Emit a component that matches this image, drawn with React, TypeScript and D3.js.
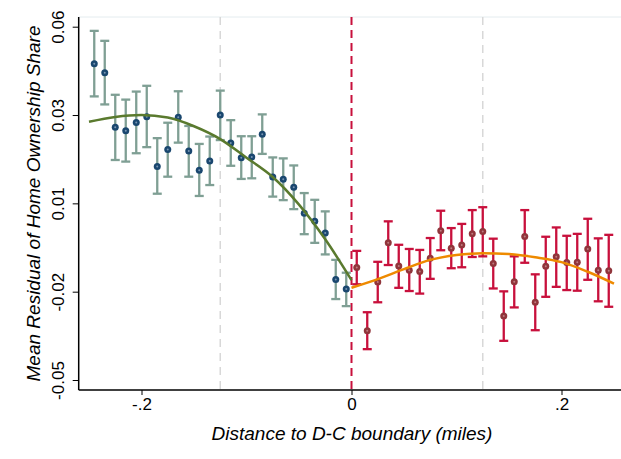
import { useEffect, useRef } from "react";
import * as d3 from "d3";

// bin midpoints (miles from the boundary)
const leftX = [-0.245, -0.235, -0.225, -0.215, -0.205, -0.195, -0.185, -0.175, -0.165, -0.155, -0.145, -0.135, -0.125,
    -0.115, -0.105, -0.095, -0.085, -0.075, -0.065, -0.055, -0.045, -0.035, -0.025, -0.015, -0.005];
const leftMean = [0.0485, 0.0457, 0.0287, 0.0276, 0.0302, 0.0320, 0.0165, 0.0218, 0.0318, 0.0213, 0.0153, 0.0182, 0.0325,
    0.0238, 0.0192, 0.0194, 0.0265, 0.0132, 0.0125, 0.0100, 0.0019, -0.0006, -0.0042, -0.0187, -0.0217];
const leftHi = [0.0587, 0.0556, 0.0388, 0.0373, 0.0398, 0.0416, 0.0253, 0.0301, 0.0399, 0.0291, 0.0235, 0.0258, 0.0401,
    0.0309, 0.0259, 0.0259, 0.0327, 0.0193, 0.0190, 0.0168, 0.0082, 0.0061, 0.0025, -0.0126, -0.0166];
const leftLo = [0.0383, 0.0358, 0.0185, 0.0180, 0.0206, 0.0225, 0.0080, 0.0133, 0.0239, 0.0133, 0.0073, 0.0107, 0.0247,
    0.0167, 0.0126, 0.0128, 0.0204, 0.0071, 0.0060, 0.0032, -0.0046, -0.0073, -0.0109, -0.0248, -0.0270];

const rightX = [0.005, 0.015, 0.025, 0.035, 0.045, 0.055, 0.065, 0.075, 0.085, 0.095, 0.105, 0.115, 0.125,
    0.135, 0.145, 0.155, 0.165, 0.175, 0.185, 0.195, 0.205, 0.215, 0.225, 0.235, 0.245];
const rightMean = [-0.0150, -0.0347, -0.0195, -0.0073, -0.0145, -0.0158, -0.0162, -0.0121, -0.0035, -0.0090, -0.0080, -0.0045, -0.0038,
    -0.0137, -0.0301, -0.0194, -0.0053, -0.0258, -0.0146, -0.0116, -0.0134, -0.0133, -0.0092, -0.0158, -0.0160];
const rightHi = [-0.0098, -0.0289, -0.0132, -0.0006, -0.0079, -0.0092, -0.0095, -0.0058, 0.0027, -0.0027, -0.0014, 0.0029, 0.0038,
    -0.0060, -0.0224, -0.0115, 0.0029, -0.0171, -0.0054, -0.0025, -0.0051, -0.0045, 0.0002, -0.0059, -0.0048];
const rightLo = [-0.0202, -0.0404, -0.0258, -0.0142, -0.0213, -0.0223, -0.0231, -0.0185, -0.0096, -0.0152, -0.0149, -0.0117, -0.0115,
    -0.0215, -0.0378, -0.0274, -0.0135, -0.0345, -0.0241, -0.0210, -0.0220, -0.0222, -0.0188, -0.0255, -0.0272];

// fitted polynomials
const leftFitX = [-0.25, -0.225, -0.2, -0.175, -0.15, -0.125, -0.1, -0.075, -0.05, -0.025, 0];
const leftFitY = [0.0304, 0.0319, 0.0325, 0.0317, 0.0290, 0.0250, 0.0192, 0.0132, 0.0046, -0.0062, -0.0189];
const rightFitX = [0, 0.025, 0.05, 0.075, 0.1, 0.125, 0.15, 0.175, 0.2, 0.225, 0.25];
const rightFitY = [-0.0213, -0.0186, -0.0155, -0.0126, -0.0111, -0.0105, -0.0108, -0.0118, -0.0133, -0.0163, -0.0200];

const xTicks = [-0.2, 0, 0.2];
const xTickLabels = ["-.2", "0", ".2"];
const yTicks = [-0.05, -0.0225, 0.005, 0.0325, 0.06];
const yTickLabels = ["-0.05", "-0.02", "0.01", "0.03", "0.06"];
const refLines = [-0.125, 0.125];

const font = "'Liberation Sans', Arial, sans-serif";

export default function App() {
    const ref = useRef<SVGSVGElement>(null);

    useEffect(() => {
        const svg = d3.select(ref.current);
        svg.selectAll("*").remove();

        const width = 621, height = 459;
        const plotLeft = 78.7, plotRight = 621, plotTop = 17, plotBottom = 390;

        const x = d3.scaleLinear().domain([-0.2, 0.2]).range([141.5, 561.5]);
        const y = d3.scaleLinear().domain([-0.05, 0.06]).range([380, 26.7]);

        svg.append("rect").attr("width", width).attr("height", height).attr("fill", "white");

        // faint plot region top edge
        svg.append("line")
            .attr("x1", plotLeft).attr("x2", plotRight)
            .attr("y1", plotTop).attr("y2", plotTop)
            .attr("stroke", "#e4ecef").attr("stroke-width", 1);

        svg.selectAll(".ref")
            .data(refLines)
            .enter()
            .append("line")
            .attr("x1", (d) => x(d)).attr("x2", (d) => x(d))
            .attr("y1", plotTop).attr("y2", plotBottom)
            .attr("stroke", "#d8d8d8").attr("stroke-width", 1.5)
            .attr("stroke-dasharray", "8,6");

        svg.append("line")
            .attr("x1", x(0)).attr("x2", x(0))
            .attr("y1", plotTop).attr("y2", plotBottom)
            .attr("stroke", "#c8103c").attr("stroke-width", 2)
            .attr("stroke-dasharray", "8,5");

        const drawBars = (xs: number[], lo: number[], hi: number[], color: string) => {
            const g = svg.append("g").attr("stroke", color).attr("stroke-width", 2.3).attr("fill", "none");
            xs.forEach((xv, i) => {
                g.append("line").attr("x1", x(xv)).attr("x2", x(xv)).attr("y1", y(lo[i])).attr("y2", y(hi[i]));
                g.append("line").attr("x1", x(xv) - 4.5).attr("x2", x(xv) + 4.5).attr("y1", y(lo[i])).attr("y2", y(lo[i]));
                g.append("line").attr("x1", x(xv) - 4.5).attr("x2", x(xv) + 4.5).attr("y1", y(hi[i])).attr("y2", y(hi[i]));
            });
        };
        drawBars(leftX, leftLo, leftHi, "#7f9f94");
        drawBars(rightX, rightLo, rightHi, "#c8103c");

        const drawDots = (xs: number[], ys: number[], color: string, inner: string) => {
            const g = svg.append("g");
            xs.forEach((xv, i) => {
                g.append("circle").attr("cx", x(xv)).attr("cy", y(ys[i])).attr("r", 3.5).attr("fill", color);
                g.append("circle").attr("cx", x(xv)).attr("cy", y(ys[i])).attr("r", 1).attr("fill", inner);
            });
        };
        drawDots(leftX, leftMean, "#1a476f", "#7896b4");
        drawDots(rightX, rightMean, "#90353b", "#c07a80");

        const line = d3.line<number>().curve(d3.curveMonotoneX);
        svg.append("path")
            .attr("d", line.x((d) => x(d)).y((_, i) => y(leftFitY[i]))(leftFitX))
            .attr("fill", "none").attr("stroke", "#5a7a2e").attr("stroke-width", 2.5);
        svg.append("path")
            .attr("d", line.x((d) => x(d)).y((_, i) => y(rightFitY[i]))(rightFitX))
            .attr("fill", "none").attr("stroke", "#ee8a00").attr("stroke-width", 2.5);

        // axes
        const xAxis = d3.axisBottom(x).tickValues(xTicks).tickFormat((_, i) => xTickLabels[i]).tickSize(5).tickSizeOuter(0);
        const gx = svg.append("g").attr("transform", `translate(0,${plotBottom})`).call(xAxis);
        gx.select(".domain").remove();
        gx.selectAll("line").attr("stroke", "#000").attr("stroke-width", 1);
        gx.selectAll("text").attr("font-family", font).attr("font-size", 17).attr("fill", "#000").attr("y", 8).attr("dy", "0.71em");

        const yAxis = d3.axisLeft(y).tickValues(yTicks).tickFormat((_, i) => yTickLabels[i]).tickSize(6).tickSizeOuter(0);
        const gy = svg.append("g").attr("transform", `translate(${plotLeft},0)`).call(yAxis);
        gy.select(".domain").remove();
        gy.selectAll("line").attr("stroke", "#000").attr("stroke-width", 1);
        gy.selectAll("text")
            .attr("font-family", font).attr("font-size", 17).attr("fill", "#000")
            .attr("transform", "rotate(-90)")
            .attr("x", 0).attr("y", -15).attr("dy", 0)
            .attr("text-anchor", "middle");

        svg.append("line")
            .attr("x1", plotLeft).attr("x2", plotRight)
            .attr("y1", plotBottom).attr("y2", plotBottom)
            .attr("stroke", "#000").attr("stroke-width", 1.5);
        svg.append("line")
            .attr("x1", plotLeft).attr("x2", plotLeft)
            .attr("y1", plotTop).attr("y2", plotBottom)
            .attr("stroke", "#000").attr("stroke-width", 1.5);

        svg.append("text")
            .attr("x", 352).attr("y", 440)
            .attr("text-anchor", "middle")
            .attr("font-family", font).attr("font-size", 19).attr("font-style", "italic")
            .text("Distance to D-C boundary (miles)");

        svg.append("text")
            .attr("transform", `translate(40,${(plotTop + plotBottom) / 2}) rotate(-90)`)
            .attr("text-anchor", "middle")
            .attr("font-family", font).attr("font-size", 19).attr("font-style", "italic")
            .text("Mean Residual of Home Ownership Share");
    }, []);

    return <svg ref={ref} width={621} height={459} style={{position: "absolute", left: 0, top: 0, display: "block"}}></svg>;
}
